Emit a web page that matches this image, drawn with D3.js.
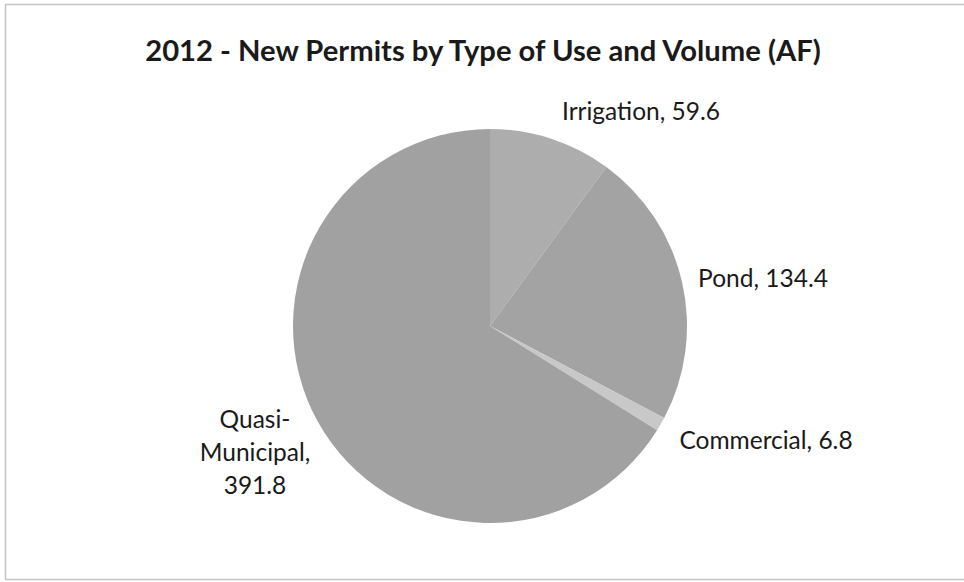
<!DOCTYPE html>
<html><head><meta charset="utf-8">
<script src="https://cdn.jsdelivr.net/npm/d3@7"></script>
<style>html,body{margin:0;padding:0;background:#fff;}svg{display:block;}</style>
</head><body>
<svg id="chart" width="964" height="582"></svg>
<script>
const categories = ["Irrigation", "Pond", "Commercial", "Quasi-Municipal"];
const values = [59.6, 134.4, 6.8, 391.8];
const colors = ["#adadad", "#a3a3a3", "#c8c8c8", "#a1a1a1"];
const labelLines = [["Irrigation, 59.6"], ["Pond, 134.4"], ["Commercial, 6.8"], ["Quasi-", "Municipal,", "391.8"]];
const labelPos = [[641, 120], [763, 287], [766, 449], [255, 428]];

const svg = d3.select("#chart");
svg.append("rect").attr("x", 5.5).attr("y", 4.5).attr("width", 980).attr("height", 575)
  .attr("fill", "#fff").attr("stroke", "#c4c4c4").attr("stroke-width", 1.5);

svg.append("text").attr("x", 483).attr("y", 61).attr("text-anchor", "middle")
  .attr("font-family", "Lato, 'Open Sans', sans-serif").attr("font-weight", "bold")
  .attr("font-size", 29.2).attr("fill", "#1a1a1a")
  .text("2012 - New Permits by Type of Use and Volume (AF)");

const cx = 490, cy = 326, r = 197;
const data = categories.map((c, i) => ({ c, v: values[i], i }));
const pie = d3.pie().sort(null).value(d => d.v);
const arc = d3.arc().innerRadius(0).outerRadius(r);
const g = svg.append("g").attr("transform", `translate(${cx},${cy})`);
g.selectAll("path").data(pie(data)).join("path")
  .attr("d", arc).attr("fill", d => colors[d.data.i]);

data.forEach((d, i) => {
  const t = svg.append("text").attr("text-anchor", "middle")
    .attr("font-family", "Lato, 'Open Sans', sans-serif").attr("font-size", 24.5).attr("fill", "#1a1a1a");
  labelLines[i].forEach((line, k) => {
    t.append("tspan").attr("x", labelPos[i][0]).attr("y", labelPos[i][1] + k * 33).text(line);
  });
});
</script>
</body></html>
